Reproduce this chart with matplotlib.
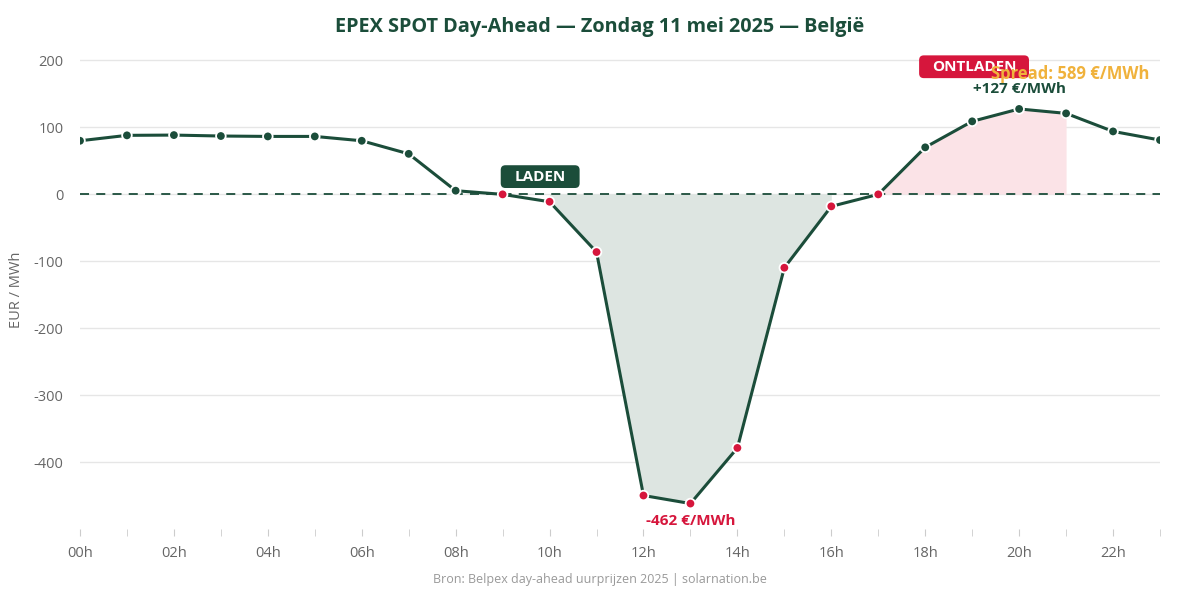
import matplotlib
matplotlib.use("Agg")
import matplotlib.pyplot as plt
from matplotlib.patches import FancyBboxPatch
import numpy as np

hours = list(range(24))
prices = [79.5, 87.6, 88, 86.6, 86, 86, 79.5, 60, 5, -0.5, -11.5, -86.6, -450, -462,
          -379, -110, -18.4, -0.5, 69.7, 108.5, 127, 120.4, 93.5, 80.6]
tick_labels = ["00h", "02h", "04h", "06h", "08h", "10h", "12h", "14h", "16h", "18h", "20h", "22h"]
yticks = [200, 100, 0, -100, -200, -300, -400]
charge_hours = (10, 16)
discharge_hours = (17, 21)

GREEN = "#1b4d3a"
RED = "#d6163c"
ORANGE = "#f0b23c"
FONT = ["Open Sans", "DejaVu Sans"]
plt.rcParams["font.family"] = FONT

fig = plt.figure(figsize=(12, 6), dpi=100)
ax = fig.add_axes([80/1200, 1-529/600, 1080/1200, 479/600])
ax.set_xlim(0, 23)
ax.set_ylim(-500, 215)

x = np.array(hours)
y = np.array(prices)

# fills
m = (x >= charge_hours[0]) & (x <= charge_hours[1])
ax.fill_between(x[m], y[m], 0, color="#dde5e1", zorder=1, linewidth=0)
m2 = (x >= discharge_hours[0]) & (x <= discharge_hours[1])
ax.fill_between(x[m2], y[m2], 0, color="#fbe3e7", zorder=1, linewidth=0)

for v in yticks:
    ax.axhline(v, color="#e6e6e6", lw=1, zorder=0)
ax.axhline(0, color=GREEN, lw=1.3, ls=(0, (5, 4)), zorder=2)

ax.plot(x, y, color=GREEN, lw=2.2, zorder=3)
colors = [RED if p <= 0 else GREEN for p in prices]
ax.scatter(x, y, s=48, c=colors, edgecolors="white", linewidths=1.3, zorder=4)

ax.set_xticks(range(0, 24, 2))
ax.set_xticklabels(tick_labels)
ax.set_xticks(range(24), minor=True)
ax.set_yticks(yticks)
ax.set_yticklabels([str(v) for v in yticks])
ax.tick_params(axis="x", which="both", length=5, color="#cccccc", labelcolor="#666666",
               labelsize=10.5, pad=7)
ax.tick_params(axis="y", length=0, labelcolor="#666666", labelsize=10.5, pad=12)
for s in ax.spines.values():
    s.set_visible(False)

ax.set_ylabel("EUR / MWh", color="#666666", fontsize=10.5)
ax.yaxis.set_label_coords(-0.052, 0.5)

# label boxes (x in hours, y in EUR/MWh)
aspect = (479 / 715) ** -1 * (1080 / 23) / 1.0
def label_box(x0, x1, y0, y1, fc, text):
    box = FancyBboxPatch((x0, y0), x1 - x0, y1 - y0,
                         boxstyle="round,pad=0,rounding_size=0.1",
                         mutation_aspect=aspect, fc=fc, ec="none", zorder=5)
    ax.add_patch(box)
    ax.text((x0 + x1) / 2, (y0 + y1) / 2, text, color="white", fontsize=11,
            fontweight="bold", ha="center", va="center", zorder=6)

label_box(8.96, 10.64, 9, 43, GREEN, "LADEN")
label_box(17.87, 20.21, 173, 207, RED, "ONTLADEN")

ax.text(23.0 - 0.23, 179, "Spread: 589 €/MWh", color=ORANGE, fontsize=12, fontweight="bold",
        ha="right", va="center", zorder=7)
ax.text(20, 157, "+127 €/MWh", color=GREEN, fontsize=11, fontweight="bold",
        ha="center", va="center", zorder=7)
ax.text(13, -488, "-462 €/MWh", color=RED, fontsize=11, fontweight="bold",
        ha="center", va="center", zorder=7)

fig.text(0.5, 1-27/600, "EPEX SPOT Day-Ahead — Zondag 11 mei 2025 — België", ha="center",
         va="center", fontsize=14.3, fontweight="bold", color=GREEN)
fig.text(0.5, 1-580/600, "Bron: Belpex day-ahead uurprijzen 2025 | solarnation.be", ha="center",
         va="center", fontsize=9, color="#999999")

fig.savefig("out.png", dpi=100, facecolor="white")
